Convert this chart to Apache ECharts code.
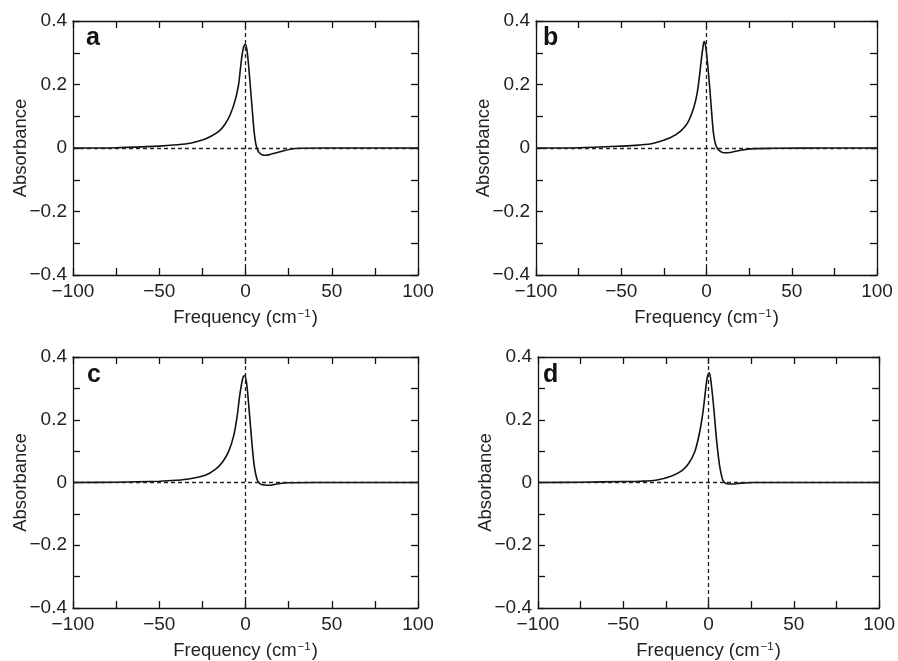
<!DOCTYPE html>
<html>
<head>
<meta charset="utf-8">
<script src="https://cdn.jsdelivr.net/npm/echarts@6/dist/echarts.min.js"></script>
<style>
html,body{margin:0;padding:0;background:#fff;}
#chart{width:898px;height:661px;}
</style>
</head>
<body>
<div id="chart"></div>
<script>
// ---- Data ----
var freqA = [-100,-75,-50,-40,-32,-25,-20,-15,-12,-9,-6,-4,-3,-2,-1,0,1,2,3,4,5,6,7,8,9.5,12,15,20,26,32,45,70,100];
var absA  = [0,0.001,0.006,0.010,0.015,0.025,0.037,0.055,0.074,0.103,0.150,0.200,0.247,0.292,0.320,0.327,0.302,0.247,0.181,0.115,0.051,0.012,-0.006,-0.015,-0.021,-0.023,-0.019,-0.012,-0.004,-0.001,0,0,0];

var freqB = [-100,-75,-50,-40,-31,-21,-15,-11,-7.5,-5.5,-4,-3,-2,-1.4,-0.5,0.5,1,2,3,4,5,6,7.5,10,14,20,28,40,70,100];
var absB  = [0,0.001,0.006,0.009,0.015,0.033,0.054,0.080,0.127,0.172,0.232,0.280,0.320,0.335,0.321,0.272,0.245,0.183,0.113,0.050,0.018,0.002,-0.008,-0.015,-0.014,-0.007,-0.002,-0.001,0,0];

var freqC = [-100,-75,-50,-40,-33,-23,-17.5,-13.5,-9.7,-6.8,-4.8,-3.5,-2.5,-1.5,-0.6,0.6,2,3.5,5,6.8,8.7,11,13.5,19,25,40,70,100];
var absC  = [0,0.001,0.004,0.007,0.011,0.024,0.042,0.064,0.100,0.150,0.213,0.271,0.307,0.334,0.341,0.318,0.238,0.140,0.056,0.008,-0.005,-0.008,-0.009,-0.004,-0.001,0,0,0];

var freqD = [-100,-75,-50,-40,-31,-21.6,-15.8,-12,-8.1,-5.2,-3.3,-1.9,-0.8,0.4,1.5,3.1,4.6,6.4,8.3,10.2,14,19,27,50,100];
var absD  = [0,0.001,0.003,0.004,0.007,0.021,0.037,0.058,0.098,0.161,0.224,0.288,0.334,0.350,0.318,0.234,0.140,0.056,0.008,-0.003,-0.005,-0.002,0,0,0];

var panelLetters = ['a','b','c','d'];
var xTickValues = [-100,-50,0,50,100];
var xTickLabels = ['\u2212100','\u221250','0','50','100'];
var yTickValues = [-0.4,-0.2,0,0.2,0.4];
var yTickLabels = ['\u22120.4','\u22120.2','0','0.2','0.4'];
var xTitle = 'Frequency (cm{sup|\u22121})';
var yTitle = 'Absorbance';

// ---- Layout ----
var FONT = 'Liberation Sans, Arial, Helvetica, sans-serif';
var grids = [
  {left:73,  top:21,  width:345, height:254},
  {left:536, top:21,  width:341, height:254},
  {left:73,  top:357, width:345, height:254},
  {left:538, top:357, width:345, height:254}
];
var letterPos = [[86,51],[543,51],[87,388],[543,388]];

function xLabel(v){
  for (var i=0;i<xTickValues.length;i++) if (Math.abs(v-xTickValues[i])<1e-6) return xTickLabels[i];
  return '';
}
function yLabel(v){
  for (var i=0;i<yTickValues.length;i++) if (Math.abs(v-yTickValues[i])<1e-6) return yTickLabels[i];
  return '';
}

var axisLineStyle = {color:'#111', width:1.3};
var xAxes = [], yAxes = [], series = [];
var datasets = [[freqA,absA],[freqB,absB],[freqC,absC],[freqD,absD]];

for (var g=0; g<4; g++){
  var common = {
    type:'value', gridIndex:g, min:-100, max:100, interval:25,
    axisLine:{show:true, onZero:false, lineStyle:axisLineStyle},
    axisTick:{show:true, inside:true, length:7, lineStyle:axisLineStyle},
    splitLine:{show:false}
  };
  xAxes.push(Object.assign({}, common, {
    position:'bottom',
    axisLabel:{formatter:xLabel, margin:7, fontSize:19, color:'#222', fontFamily:FONT},
    name:xTitle, nameLocation:'middle', nameGap:33, nameMoveOverlap:false,
    nameTextStyle:{fontSize:18.5, color:'#222', fontFamily:FONT,
      rich:{sup:{fontSize:11.5, color:'#222', fontFamily:FONT, verticalAlign:'top', padding:[0,1,0,1]}}}
  }));
  xAxes.push(Object.assign({}, common, {position:'top', axisLabel:{show:false}}));

  var ycommon = {
    type:'value', gridIndex:g, min:-0.4, max:0.4, interval:0.1,
    axisLine:{show:true, onZero:false, lineStyle:axisLineStyle},
    axisTick:{show:true, inside:true, length:7, lineStyle:axisLineStyle},
    splitLine:{show:false}
  };
  yAxes.push(Object.assign({}, ycommon, {
    position:'left',
    axisLabel:{formatter:yLabel, margin:6, fontSize:19, color:'#222', fontFamily:FONT},
    name:yTitle, nameLocation:'middle', nameGap:43, nameRotate:90, nameMoveOverlap:false,
    nameTextStyle:{fontSize:18.5, color:'#222', fontFamily:FONT}
  }));
  yAxes.push(Object.assign({}, ycommon, {position:'right', axisLabel:{show:false}}));

  var fx = datasets[g][0], ay = datasets[g][1], pts = [];
  for (var i=0;i<fx.length;i++) pts.push([fx[i], ay[i]]);
  series.push({
    type:'line', xAxisIndex:2*g, yAxisIndex:2*g, data:pts,
    symbol:'none', smooth:0.3, lineStyle:{color:'#111', width:1.6},
    markLine:{silent:true, symbol:'none', label:{show:false},
      lineStyle:{type:[4,3], color:'#222', width:1.3},
      emphasis:{disabled:true},
      data:[{xAxis:0},{yAxis:0}]}
  });
}

var graphics = [];
for (var k=0;k<4;k++){
  graphics.push({type:'text', x:letterPos[k][0], y:letterPos[k][1],
    style:{text:panelLetters[k], font:'bold 25px '+FONT, fill:'#111', textVerticalAlign:'bottom', verticalAlign:'bottom'}});
}

var chart = echarts.init(document.getElementById('chart'), null, {renderer:'canvas'});
chart.setOption({
  animation:false,
  backgroundColor:'#fff',
  grid:grids,
  xAxis:xAxes,
  yAxis:yAxes,
  series:series,
  graphic:graphics
});
</script>
</body>
</html>
